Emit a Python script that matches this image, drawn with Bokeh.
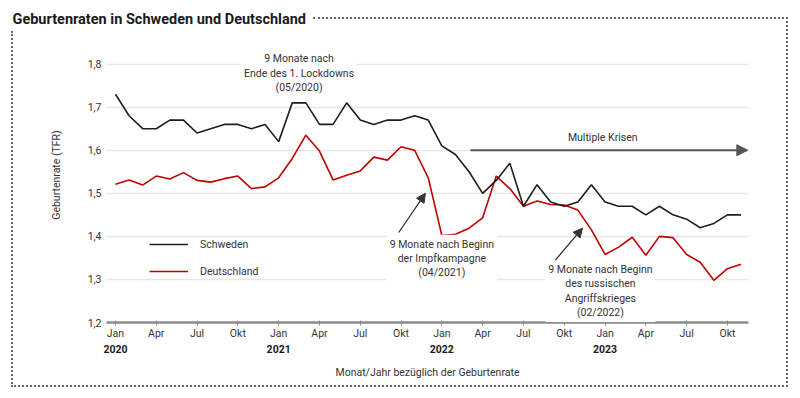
from bokeh.plotting import figure
from bokeh.models import (Range1d, LinearAxis, FixedTicker, Label, InlineStyleSheet,
                          Arrow, NormalHead, Legend, LegendItem)
from bokeh.embed import file_html
from bokeh.resources import INLINE

# ---------------- data ----------------
# month index: 0 = Jan 2020 ... 46 = Nov 2023
months = list(range(47))
sweden = [1.73, 1.68, 1.65, 1.65, 1.67, 1.67, 1.64, 1.65, 1.66, 1.66, 1.65, 1.66,
          1.62, 1.71, 1.71, 1.66, 1.66, 1.71, 1.67, 1.66, 1.67, 1.67, 1.68, 1.67,
          1.61, 1.59, 1.55, 1.50, 1.53, 1.57, 1.47, 1.52, 1.48, 1.47, 1.48, 1.52,
          1.48, 1.47, 1.47, 1.45, 1.47, 1.45, 1.44, 1.42, 1.43, 1.45, 1.45]
germany = [1.521, 1.531, 1.519, 1.540, 1.533, 1.548, 1.530, 1.526, 1.534, 1.540, 1.511, 1.515,
           1.536, 1.581, 1.635, 1.598, 1.531, 1.542, 1.552, 1.584, 1.577, 1.608, 1.600, 1.536,
           1.402, 1.405, 1.419, 1.443, 1.540, 1.511, 1.470, 1.482, 1.474, 1.473, 1.461, 1.415,
           1.358, 1.375, 1.398, 1.356, 1.400, 1.397, 1.358, 1.340, 1.298, 1.325, 1.335]

month_ticks = list(range(0, 46, 3))
month_labels = ["Jan", "Apr", "Jul", "Okt"] * 4
year_ticks = [0, 12, 24, 36]
year_labels = ["2020", "2021", "2022", "2023"]
y_ticks = [1.2, 1.3, 1.4, 1.5, 1.6, 1.7, 1.8]
y_labels = ["1,2", "1,3", "1,4", "1,5", "1,6", "1,7", "1,8"]

title_text = "Geburtenraten in Schweden und Deutschland"
note_lockdown = "9 Monate nach\nEnde des 1. Lockdowns\n(05/2020)"
note_impf = "9 Monate nach Beginn\nder Impfkampagne\n(04/2021)"
note_krieg = "9 Monate nach Beginn\ndes russischen\nAngriffskrieges\n(02/2022)"
note_krisen = "Multiple Krisen"

# annotation anchor points (month index, TFR)
lockdown_pos = (13.5, 1.834)
impf_pos = (24.0, 1.404)
krieg_pos = (35.66, 1.345)
krisen_pos = (35.83, 1.630)
impf_arrow = (20.83, 1.409, 22.79, 1.500)
krieg_arrow = (32.35, 1.345, 34.34, 1.419)
krisen_arrow = (26.1, 1.6, 46.5, 1.6)

# ---------------- layout ----------------
FONT = "Roboto"
FS = "10.5px"
TXT = "#333333"
W, H = 800, 398
BL, BR, BT, BB = 106, 52, 27, 76

css = """
:host { position: relative; }
:host::before { content: ""; position: absolute; left: 313px; top: 17px; z-index: 10;
  width: 474.5px; height: 370px; box-sizing: border-box;
  border-top: 2px dotted #666; border-right: 2px dotted #666; pointer-events: none; }
:host::after { content: ""; position: absolute; left: 11px; top: 31px; z-index: 10;
  width: 776.5px; height: 356px; box-sizing: border-box;
  border-left: 2px dotted #666; border-bottom: 2px dotted #666; pointer-events: none; }
"""

p = figure(width=W, height=H, output_backend="svg", toolbar_location=None,
           x_range=Range1d(-0.66, 46.55), y_range=Range1d(1.2, 1.885),
           min_border_left=BL, min_border_right=BR, min_border_top=BT,
           min_border_bottom=BB)
p.stylesheets = [InlineStyleSheet(css=css)]
p.outline_line_color = None
p.background_fill_color = "white"
p.border_fill_color = "white"
p.xgrid.visible = False
p.ygrid.grid_line_color = "#e6e6e6"
p.ygrid.grid_line_width = 1.5

p.title.text = title_text
p.title.text_font = FONT
p.title.text_font_size = "14.5px"
p.title.text_font_style = "bold"
p.title.text_color = "#1a1a1a"
p.title.align = "left"
p.title.offset = -94
p.title.standoff = 0
p.title.vertical_align = "bottom"

# y axis
ya = p.yaxis[0]
ya.ticker = FixedTicker(ticks=y_ticks)
ya.major_label_overrides = {t: l for t, l in zip(y_ticks, y_labels)}
ya.axis_line_color = None
ya.major_tick_line_color = None
ya.major_tick_in = 0
ya.major_tick_out = 0
ya.minor_tick_line_color = None
ya.minor_tick_in = 0
ya.minor_tick_out = 0
ya.major_label_standoff = 5
ya.major_label_text_font = FONT
ya.major_label_text_font_size = FS
ya.major_label_text_color = TXT
ya.axis_label = "Geburtenrate (TFR)"
ya.axis_label_text_font = FONT
ya.axis_label_text_font_size = FS
ya.axis_label_text_font_style = "normal"
ya.axis_label_text_color = TXT
ya.axis_label_standoff = 22

# x axis (months)
xa = p.xaxis[0]
xa.ticker = FixedTicker(ticks=month_ticks)
xa.major_label_overrides = {t: l for t, l in zip(month_ticks, month_labels)}
xa.axis_line_color = "#8c8c8c"
xa.axis_line_width = 2.5
xa.major_tick_line_color = "#8c8c8c"
xa.major_tick_in = 2
xa.major_tick_out = 3
xa.minor_tick_line_color = None
xa.minor_tick_in = 0
xa.minor_tick_out = 0
xa.major_label_standoff = 1
xa.major_label_text_font = FONT
xa.major_label_text_font_size = FS
xa.major_label_text_color = TXT

# x axis (years)
xa2 = LinearAxis(ticker=FixedTicker(ticks=year_ticks),
                 major_label_overrides={t: l for t, l in zip(year_ticks, year_labels)})
xa2.axis_line_color = None
xa2.major_tick_line_color = None
xa2.major_tick_in = 0
xa2.major_tick_out = 0
xa2.minor_tick_line_color = None
xa2.minor_tick_in = 0
xa2.minor_tick_out = 0
xa2.major_label_standoff = 2
xa2.major_label_text_font = FONT
xa2.major_label_text_font_size = FS
xa2.major_label_text_font_style = "bold"
xa2.major_label_text_color = "#1a1a1a"
xa2.axis_label = "Monat/Jahr bezüglich der Geburtenrate"
xa2.axis_label_text_font = FONT
xa2.axis_label_text_font_size = FS
xa2.axis_label_text_font_style = "normal"
xa2.axis_label_text_color = TXT
xa2.axis_label_standoff = 10
p.add_layout(xa2, "below")

# data lines
r_de = p.line(months, germany, line_color="#c00000", line_width=1.6)
r_sw = p.line(months, sweden, line_color="#1e1e1e", line_width=1.6)

legend = Legend(items=[LegendItem(label="Schweden", renderers=[r_sw]),
                       LegendItem(label="Deutschland", renderers=[r_de])],
                location=(43, 41), padding=0, margin=0, spacing=7,
                glyph_width=39, glyph_height=20, label_height=20, label_standoff=12,
                border_line_color=None, background_fill_alpha=0,
                label_text_font=FONT, label_text_font_size=FS, label_text_color=TXT)
p.add_layout(legend, "center")

# annotations
for (px_, py_), txt in [(lockdown_pos, note_lockdown), (impf_pos, note_impf),
                        (krieg_pos, note_krieg)]:
    p.add_layout(Label(x=px_, y=py_, text=txt, text_font=FONT, text_font_size=FS,
                       text_color=TXT, text_align="center", text_baseline="top",
                       text_line_height=1.1, background_fill_color="white",
                       background_fill_alpha=1, padding=3))

p.add_layout(Label(x=krisen_pos[0], y=krisen_pos[1], text=note_krisen, text_font=FONT,
                   text_font_size=FS, text_color=TXT, text_align="center",
                   text_baseline="middle"))

for (x0, y0, x1, y1), col, lw, hs in [(impf_arrow, "#333333", 1.3, 9),
                                      (krieg_arrow, "#333333", 1.3, 9),
                                      (krisen_arrow, "#555555", 2, 11)]:
    p.add_layout(Arrow(x_start=x0, y_start=y0, x_end=x1, y_end=y1,
                       line_color=col, line_width=lw,
                       end=NormalHead(size=hs, fill_color=col, line_color=col)))

open("out.html", "w").write(file_html(p, INLINE))
